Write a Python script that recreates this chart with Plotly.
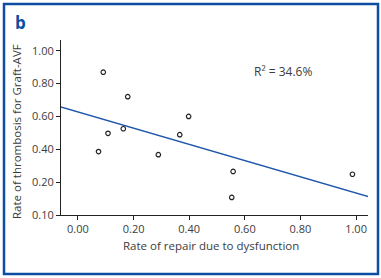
import plotly.graph_objects as go

# Data
repair_rate = [0.091, 0.179, 0.108, 0.163, 0.074, 0.289, 0.366, 0.398, 0.558, 0.553, 0.987]
thrombosis_rate = [0.869, 0.720, 0.497, 0.525, 0.386, 0.367, 0.489, 0.600, 0.265, 0.107, 0.248]

fit_x = [-0.065, 1.047]
fit_y = [0.659, 0.111]

x_tickvals = [0.0, 0.2, 0.4, 0.6, 0.8, 1.0]
x_ticktext = ["0.00", "0.20", "0.40", "0.60", "0.80", "1.00"]
y_tickvals = [0.0, 0.2, 0.4, 0.6, 0.8, 1.0]
y_ticktext = ["0.10", "0.20", "0.40", "0.60", "0.80", "1.00"]

W, H = 381, 278
L, R, T, B = 61, 13, 40, 63
pw, ph = W - L - R, H - T - B


def px_to_paper(px, py):
    return (px - L) / pw, (H - B - py) / ph


FONT = "Open Sans"
TXT = "#3c3c3c"
BLUE = "#0d4ea3"

fig = go.Figure()
fig.add_trace(go.Scatter(
    x=fit_x, y=fit_y, mode="lines",
    line=dict(color="#1f56ab", width=1.5),
    showlegend=False, hoverinfo="skip"))
fig.add_trace(go.Scatter(
    x=repair_rate, y=thrombosis_rate, mode="markers",
    marker=dict(symbol="circle-open", size=4.5, color="#222222", line=dict(width=1.2)),
    showlegend=False))

x0, y0 = px_to_paper(4, 274)
x1, y1 = px_to_paper(378, 4)
fig.add_shape(type="rect", xref="paper", yref="paper", x0=x0, y0=y0, x1=x1, y1=y1,
              line=dict(color=BLUE, width=2.5), layer="below")

bx, by = px_to_paper(13, 22)
fig.add_annotation(xref="paper", yref="paper", x=bx, y=by, text="<b>b</b>",
                   showarrow=False, xanchor="left", yanchor="middle",
                   font=dict(family=FONT, size=17, color=BLUE))

rx, ry = px_to_paper(283, 71)
fig.add_annotation(xref="paper", yref="paper", x=rx, y=ry, text="R² = 34.6%",
                   showarrow=False, xanchor="center", yanchor="middle",
                   font=dict(family=FONT, size=12, color=TXT))

tx, ty = px_to_paper(211, 245)
fig.add_annotation(xref="paper", yref="paper", x=tx, y=ty,
                   text="Rate of repair due to dysfunction",
                   showarrow=False, xanchor="center", yanchor="middle",
                   font=dict(family=FONT, size=11.5, color=TXT))

yx, yy = px_to_paper(16, 132)
fig.add_annotation(xref="paper", yref="paper", x=yx, y=yy,
                   text="Rate of thrombosis for Graft-AVF", textangle=-90,
                   showarrow=False, xanchor="center", yanchor="middle",
                   font=dict(family=FONT, size=11.5, color=TXT))

fig.update_xaxes(range=[-0.061, 1.043], tickvals=x_tickvals, ticktext=x_ticktext,
                 showline=True, linecolor="#222222", linewidth=1,
                 ticks="outside", ticklen=4, tickcolor="#222222",
                 showgrid=False, zeroline=False,
                 tickfont=dict(family=FONT, size=11, color=TXT))
fig.update_yaxes(range=[0.0, 1.065], tickvals=y_tickvals, ticktext=y_ticktext,
                 showline=True, linecolor="#222222", linewidth=1,
                 ticks="outside", ticklen=4, tickcolor="#222222",
                 showgrid=False, zeroline=False,
                 tickfont=dict(family=FONT, size=11, color=TXT))

fig.update_layout(width=W, height=H, margin=dict(l=L, r=R, t=T, b=B),
                  paper_bgcolor="white", plot_bgcolor="white")

fig.write_html("out.html", config={"displayModeBar": False},
               post_script="document.body.style.margin='0';document.body.style.overflow='hidden';")
